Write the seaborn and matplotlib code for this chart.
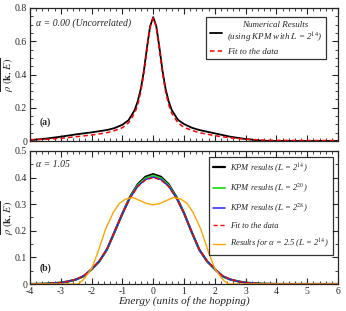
import matplotlib
matplotlib.use("Agg")
import matplotlib.pyplot as plt
from matplotlib.ticker import MultipleLocator
import numpy as np
import pandas as pd
import seaborn as sns

# ---- panel (a): alpha = 0.00 ----
energy_a = [-4, -3.5, -3, -2.5, -2, -1.5, -1.25, -1, -0.8, -0.6, -0.5, -0.4, -0.3, -0.2, -0.1, 0,
            0.1, 0.2, 0.3, 0.4, 0.5, 0.6, 0.8, 1, 1.25, 1.5, 2, 2.5, 3, 3.5, 4, 5, 6]
kpm_a = [0.005, 0.014, 0.026, 0.040, 0.052, 0.066, 0.078, 0.098, 0.125, 0.187, 0.24, 0.315, 0.425, 0.565, 0.69, 0.745,
         0.69, 0.565, 0.425, 0.315, 0.24, 0.187, 0.128, 0.102, 0.08, 0.066, 0.046, 0.026, 0.012, 0.002, 0.0, 0.0, 0.0]
fit_a = [0.008, 0.010, 0.016, 0.026, 0.036, 0.050, 0.063, 0.080, 0.110, 0.168, 0.22, 0.30, 0.41, 0.55, 0.685, 0.74,
         0.685, 0.55, 0.41, 0.30, 0.22, 0.168, 0.110, 0.082, 0.064, 0.050, 0.032, 0.019, 0.011, 0.006, 0.004, 0.003, 0.003]

# ---- panel (b): alpha = 1.05 ----
energy_b = [-4, -3.5, -3, -2.75, -2.5, -2.25, -2, -1.75, -1.5, -1.25, -1, -0.75, -0.5, -0.25, 0,
            0.25, 0.5, 0.75, 1, 1.25, 1.5, 1.75, 2, 2.25, 2.5, 2.75, 3, 3.5, 4, 5, 6]
kpm14_b = [0.0, 0.001, 0.005, 0.010, 0.017, 0.030, 0.055, 0.085, 0.130, 0.197, 0.265, 0.328, 0.375, 0.403, 0.413,
           0.403, 0.375, 0.328, 0.267, 0.195, 0.128, 0.085, 0.056, 0.029, 0.017, 0.010, 0.005, 0.001, 0.0, 0.0, 0.0]
kpm20_b = [0.0, 0.001, 0.005, 0.010, 0.017, 0.030, 0.055, 0.085, 0.130, 0.196, 0.264, 0.326, 0.372, 0.398, 0.408,
           0.398, 0.372, 0.326, 0.266, 0.194, 0.128, 0.085, 0.056, 0.029, 0.017, 0.010, 0.005, 0.001, 0.0, 0.0, 0.0]
kpm28_b = [0.0, 0.001, 0.005, 0.010, 0.017, 0.031, 0.056, 0.086, 0.131, 0.197, 0.264, 0.324, 0.368, 0.393, 0.402,
           0.393, 0.368, 0.324, 0.266, 0.195, 0.129, 0.086, 0.057, 0.030, 0.017, 0.010, 0.005, 0.001, 0.0, 0.0, 0.0]
fit_b = [0.0, 0.001, 0.005, 0.010, 0.018, 0.031, 0.056, 0.087, 0.132, 0.198, 0.264, 0.323, 0.366, 0.391, 0.400,
         0.391, 0.366, 0.323, 0.266, 0.196, 0.130, 0.087, 0.057, 0.031, 0.018, 0.010, 0.005, 0.001, 0.0, 0.0, 0.0]
energy_orange = [-4, -2.45, -2.3, -2.2, -2.0, -1.8, -1.55, -1.3, -1.1, -0.9, -0.65, -0.4, -0.2, 0,
                 0.2, 0.4, 0.65, 0.9, 1.1, 1.3, 1.55, 1.8, 2.0, 2.2, 2.3, 2.45, 6]
alpha25_b = [0.0, 0.0, 0.012, 0.026, 0.058, 0.118, 0.205, 0.268, 0.303, 0.319, 0.325, 0.312, 0.302, 0.298,
             0.302, 0.312, 0.325, 0.319, 0.303, 0.268, 0.205, 0.118, 0.058, 0.026, 0.012, 0.0, 0.0]

sns.set_theme(style="ticks")
plt.rcParams["font.family"] = ["Liberation Serif", "DejaVu Serif"]
plt.rcParams["mathtext.fontset"] = "stix"

fig = plt.figure(figsize=(3.46, 3.11), dpi=100)
ax_a = fig.add_axes([0.0867, 0.5466, 0.8902, 0.4277])
ax_b = fig.add_axes([0.0867, 0.0868, 0.8902, 0.4277])

df_a = pd.DataFrame({"E": energy_a, "kpm": kpm_a, "fit": fit_a})
sns.lineplot(data=df_a, x="E", y="kpm", ax=ax_a, color="black", lw=1.3,
             label="Numerical Results\n(using KPM with $L$ = 2$^{14}$)")
sns.lineplot(data=df_a, x="E", y="fit", ax=ax_a, color="red", lw=1.1, dashes=(3, 2),
             label="Fit to the data")

df_b = pd.DataFrame({"E": energy_b, "k14": kpm14_b, "k20": kpm20_b, "k28": kpm28_b, "fit": fit_b})
df_o = pd.DataFrame({"E": energy_orange, "a25": alpha25_b})
sns.lineplot(data=df_b, x="E", y="k14", ax=ax_b, color="black", lw=1.6, label="KPM results ($L$ = 2$^{14}$)")
sns.lineplot(data=df_b, x="E", y="k20", ax=ax_b, color="#22dd22", lw=1.3, label="KPM results ($L$ = 2$^{20}$)")
sns.lineplot(data=df_b, x="E", y="k28", ax=ax_b, color="#2222ee", lw=1.1, label="KPM results ($L$ = 2$^{28}$)")
sns.lineplot(data=df_b, x="E", y="fit", ax=ax_b, color="red", lw=1.0, dashes=(3, 2), label="Fit to the data")
sns.lineplot(data=df_o, x="E", y="a25", ax=ax_b, color="orange", lw=1.0,
             label="Results for α = 2.5 ($L$ = 2$^{14}$)")

ylabel = r"$\overline{\rho\ (\mathbf{k},\, E)}$"
for ax, ymax, ymaj in [(ax_a, 0.8, 0.2), (ax_b, 0.5, 0.1)]:
    ax.set_xlim(-4, 6)
    ax.set_ylim(0, ymax)
    ax.xaxis.set_major_locator(MultipleLocator(1))
    ax.xaxis.set_minor_locator(MultipleLocator(0.2))
    ax.yaxis.set_major_locator(MultipleLocator(ymaj))
    ax.yaxis.set_minor_locator(MultipleLocator(0.05))
    ax.tick_params(which="both", direction="in", top=True, right=True, labelsize=7, pad=2)
    ax.tick_params(which="major", length=4, width=0.8)
    ax.tick_params(which="minor", length=2, width=0.6)
    for s in ax.spines.values():
        s.set_linewidth(0.9)
    ax.set_ylabel(ylabel, fontsize=7.5)
    ax.yaxis.set_label_coords(-0.047, 0.5)
    ax.set_xlabel("")

ax_a.set_yticks([0, 0.2, 0.4, 0.6, 0.8])
ax_a.set_yticklabels(["0", "0.2", "0.4", "0.6", "0.8"])
ax_b.set_yticks([0, 0.1, 0.2, 0.3, 0.4, 0.5])
ax_b.set_yticklabels(["0", "0.1", "0.2", "0.3", "0.4", "0.5"])
ax_a.tick_params(labelbottom=False)
ax_b.set_xticks(range(-4, 7))
ax_b.set_xticklabels([str(v) for v in range(-4, 7)])
ax_b.set_xlabel("Energy (units of the hopping)", fontsize=8, fontstyle="italic", labelpad=0)

leg_a = ax_a.legend(loc="upper right", bbox_to_anchor=(0.961, 0.932), borderaxespad=0, fontsize=6.5,
                    frameon=True, fancybox=False, edgecolor="black", handlelength=1.3, borderpad=0.4,
                    labelspacing=0.3, handletextpad=0.6)
leg_a.get_frame().set_linewidth(0.9)
for t in leg_a.get_texts():
    t.set_fontstyle("italic")
    t.set_multialignment("center")

leg_b = ax_b.legend(loc="upper right", bbox_to_anchor=(0.984, 0.955), borderaxespad=0, fontsize=6.1,
                    frameon=True, fancybox=False, edgecolor="black", handlelength=1.4, borderpad=0.45,
                    labelspacing=0.85, handletextpad=0.7)
leg_b.get_frame().set_linewidth(0.9)
for t in leg_b.get_texts():
    t.set_fontstyle("italic")

ax_a.text(0.02, 0.887, "α = 0.00 (Uncorrelated)", transform=ax_a.transAxes, fontsize=7,
          fontstyle="italic", va="center")
ax_a.text(0.030, 0.14, "(a)", transform=ax_a.transAxes, fontsize=7, fontweight="bold", va="center")
ax_b.text(0.02, 0.895, "α = 1.05", transform=ax_b.transAxes, fontsize=7, fontstyle="italic", va="center")
ax_b.text(0.030, 0.12, "(b)", transform=ax_b.transAxes, fontsize=7, fontweight="bold", va="center")

fig.savefig("out.png", dpi=100)
